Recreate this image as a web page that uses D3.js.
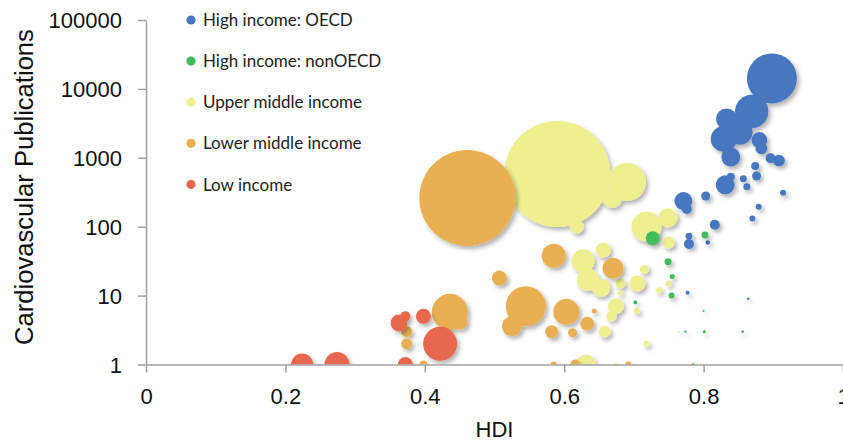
<!DOCTYPE html>
<html>
<head>
<meta charset="utf-8">
<script src="https://cdn.jsdelivr.net/npm/d3@7"></script>
<style>
  html, body { margin: 0; padding: 0; background: #fff; }
  svg { display: block; }
  .axis text { font-family: "Liberation Sans", Arial, sans-serif; font-size: 22px; fill: #111; }
  .axis path, .axis line { stroke: #a0a0a0; stroke-width: 1.5; }
</style>
</head>
<body>
<svg id="chart" width="843" height="442"></svg>
<script>
// Income groups, in legend order
const categories = ["High income: OECD", "High income: nonOECD", "Upper middle income", "Lower middle income", "Low income"];
const colors = ["#4778bf", "#3fbd5c", "#eeef8f", "#e9b052", "#e8684f"];

// Each country: [HDI, cardiovascular publications, population (millions)]
const highOECD = [
  [0.898, 14200, 298], [0.869, 4700, 133], [0.833, 3660, 53], [0.829, 1880, 81],
  [0.852, 2370, 78], [0.880, 1810, 30], [0.883, 1370, 17], [0.839, 1030, 43],
  [0.896, 985, 12], [0.908, 910, 17], [0.874, 760, 7.6], [0.876, 545, 9.7],
  [0.831, 405, 43], [0.839, 530, 7.6], [0.857, 497, 5.8], [0.862, 381, 5.8],
  [0.914, 312, 4.3], [0.803, 279, 9.7], [0.771, 236, 38], [0.776, 181, 12],
  [0.879, 195, 4.3], [0.870, 132, 4.3], [0.816, 107, 12], [0.779, 73, 5.8],
  [0.779, 56, 12], [0.806, 59, 2.5], [0.777, 11, 1.9], [0.864, 9, 0.7], [0.856, 3, 0.7]
];
const highNonOECD = [
  [0.727, 68, 23], [0.802, 76, 5.8], [0.749, 31, 5.8], [0.755, 19, 3],
  [0.754, 10, 4.3], [0.702, 8, 1.9], [0.800, 6, 0.5], [0.774, 3, 0.7],
  [0.801, 3, 1.1], [0.785, 1, 1.1]
];
const upperMiddle = [
  [0.590, 582, 1340], [0.690, 445, 172], [0.669, 261, 48], [0.618, 100, 23],
  [0.718, 100, 107], [0.749, 135, 43], [0.750, 59, 17], [0.656, 46, 27],
  [0.627, 32, 63], [0.634, 17, 58], [0.653, 13, 39], [0.681, 15, 12],
  [0.705, 15, 30], [0.715, 24, 9.7], [0.680, 11, 3], [0.736, 12, 4.3],
  [0.750, 15, 4.3], [0.674, 7, 30], [0.668, 5, 12], [0.704, 6, 4.3],
  [0.658, 3, 17], [0.718, 2, 4.3], [0.631, 1, 48], [0.674, 1, 1.9], [0.764, 3, 0.5]
];
const lowerMiddle = [
  [0.461, 261, 1099], [0.585, 38, 69], [0.507, 18, 27], [0.545, 7, 191],
  [0.525, 3.6, 48], [0.603, 5.8, 81], [0.582, 3, 20], [0.612, 2.9, 9.7],
  [0.633, 3.9, 23], [0.643, 6, 3], [0.670, 25, 53], [0.436, 5.8, 155],
  [0.450, 4.2, 30], [0.374, 3, 14], [0.374, 2, 14], [0.398, 1, 7.6],
  [0.585, 1, 4.3], [0.616, 1, 12], [0.692, 1, 4.3]
];
const lowIncome = [
  [0.224, 1, 58], [0.274, 1, 75], [0.372, 1, 27], [0.363, 4, 34],
  [0.372, 5, 12], [0.398, 5, 27], [0.422, 2, 138]
];
const seriesValues = [highOECD, highNonOECD, upperMiddle, lowerMiddle, lowIncome];

// Axis ticks
const xTicks = [0, 0.2, 0.4, 0.6, 0.8, 1];
const yTicks = [1, 10, 100, 1000, 10000, 100000];
const xTitle = "HDI";
const yTitle = "Cardiovascular Publications";

const svg = d3.select("#chart");
const plotLeft = 146, plotRight = 843, plotTop = 20, plotBottom = 364.5;

const x = d3.scaleLinear().domain([0, 1]).range([plotLeft, plotRight]);
const y = d3.scaleLog().domain([1, 100000]).range([plotBottom, plotTop]);
const r = d3.scaleSqrt().domain([0, 1340]).range([0, 53]);

const defs = svg.append("defs");
defs.append("clipPath").attr("id", "plot-clip")
  .append("rect").attr("x", plotLeft).attr("y", 0)
  .attr("width", plotRight - plotLeft).attr("height", plotBottom);
defs.append("filter").attr("id", "shadow")
  .attr("x", "-20%").attr("y", "-20%").attr("width", "140%").attr("height", "140%")
  .append("feDropShadow")
  .attr("dx", 2.5).attr("dy", 3).attr("stdDeviation", 2)
  .attr("flood-color", "#000").attr("flood-opacity", 0.3);

// Bubbles: stacking order of the groups, later groups sit on top
const drawOrder = [2, 0, 1, 3, 4];
const plot = svg.append("g").attr("clip-path", "url(#plot-clip)");
drawOrder.forEach(i => {
  const pts = seriesValues[i].slice().sort((a, b) => b[2] - a[2]);
  plot.append("g")
    .attr("filter", "url(#shadow)")
    .selectAll("circle")
    .data(pts)
    .join("circle")
    .attr("cx", d => x(d[0]))
    .attr("cy", d => y(d[1]))
    .attr("r", d => r(d[2]))
    .attr("fill", colors[i]);
});

// Axes
const xAxis = d3.axisBottom(x).tickValues(xTicks).tickFormat(d => String(d))
  .tickSizeInner(8).tickSizeOuter(0).tickPadding(11);
const yAxis = d3.axisLeft(y).tickValues(yTicks).tickFormat(d3.format("d"))
  .tickSizeInner(8).tickSizeOuter(0).tickPadding(16);

const gx = svg.append("g").attr("class", "axis")
  .attr("transform", `translate(0,${plotBottom})`).call(xAxis);
const gy = svg.append("g").attr("class", "axis")
  .attr("transform", `translate(${plotLeft},0)`).call(yAxis);
gx.selectAll(".tick text").attr("dy", "0.95em");
gy.selectAll(".tick text").attr("dy", "0.35em");

svg.append("text")
  .attr("x", (plotLeft + plotRight) / 2).attr("y", 437)
  .attr("text-anchor", "middle")
  .style("font-family", "'Liberation Sans', Arial, sans-serif")
  .style("font-size", "22px").style("fill", "#111")
  .text(xTitle);

svg.append("text")
  .attr("transform", "translate(33,187) rotate(-90)")
  .attr("text-anchor", "middle")
  .style("font-family", "'Liberation Sans', Arial, sans-serif")
  .style("font-size", "25.6px").style("fill", "#111")
  .text(yTitle);

// Legend
const legend = svg.append("g").attr("transform", "translate(191,20)");
categories.forEach((c, i) => {
  const row = legend.append("g").attr("transform", `translate(0,${i * 41.1})`);
  row.append("circle").attr("r", 4.6).attr("fill", colors[i]);
  row.append("text").attr("x", 12).attr("dy", "0.36em")
    .style("font-family", "Lato, 'Open Sans', sans-serif")
    .style("font-size", "17px").style("fill", "#222")
    .text(c);
});
</script>
</body>
</html>
